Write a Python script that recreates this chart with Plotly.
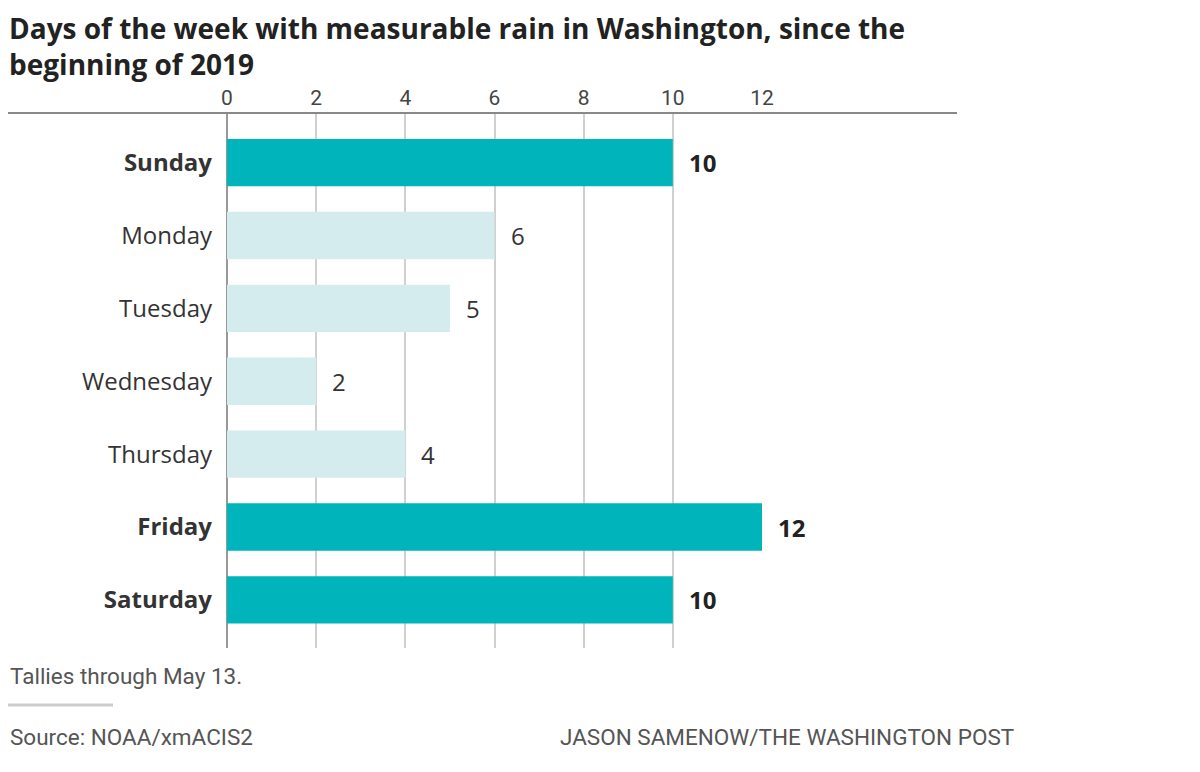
import plotly.graph_objects as go

days = ["Sunday", "Monday", "Tuesday", "Wednesday", "Thursday", "Friday", "Saturday"]
rain_days = [10, 6, 5, 2, 4, 12, 10]
highlight = [True, False, False, False, False, True, True]
tick_vals = [0, 2, 4, 6, 8, 10, 12]
tick_labels = ["0", "2", "4", "6", "8", "10", "12"]

title_text = ("Days of the week with measurable rain in Washington, since the"
              "<br>beginning of 2019")
note_text = "Tallies through May 13."
source_text = "Source: NOAA/xmACIS2"
credit_text = "JASON SAMENOW/THE WASHINGTON POST"

DARK = "#00b4bb"
LIGHT = "#d5ecee"
REG = "Open Sans, Noto Sans, sans-serif"
ROB = "Roboto, sans-serif"

# the page puts the figure 8px in from the top-left corner
OFF = 8
L, T = 227 - OFF, 113 - OFF
R = 1200 - (762 - OFF)
B = 772 - (648 - OFF)
PW = 762 - 227
PH = 648 - 113

colors = [DARK if h else LIGHT for h in highlight]

fig = go.Figure()
fig.add_trace(go.Bar(
    x=rain_days, y=days, orientation="h",
    marker=dict(color=colors, line=dict(width=0)),
    width=0.65, hoverinfo="skip",
))

for d, v, h in zip(days, rain_days, highlight):
    fig.add_annotation(
        x=v, y=d, xref="x", yref="y",
        text=f"<b>{v}</b>" if h else str(v),
        showarrow=False, xanchor="left", xshift=14,
        font=dict(family=REG, size=24, color="#222" if h else "#333"),
    )

ticktext = [f"<b>{d}</b>" if h else d for d, h in zip(days, highlight)]

fig.update_layout(
    width=1200, height=772,
    paper_bgcolor="white", plot_bgcolor="white",
    margin=dict(l=L, r=R, t=T, b=B),
    showlegend=False,
    xaxis=dict(
        range=[0, 12], side="top",
        tickvals=tick_vals, ticktext=tick_labels,
        showgrid=True, gridcolor="#d0d0d0", gridwidth=1.5,
        zeroline=True, zerolinecolor="#999", zerolinewidth=1.5,
        showline=False, ticks="", ticklabelstandoff=3,
        tickfont=dict(family=ROB, size=21, color="#444"),
        fixedrange=True,
    ),
    yaxis=dict(
        type="category", categoryorder="array", categoryarray=days,
        range=[6.66, -0.68],
        tickvals=days, ticktext=ticktext,
        showgrid=False, zeroline=False, showline=False, ticks="",
        ticklabelstandoff=14,
        tickfont=dict(family=REG, size=24, color="#333"),
        fixedrange=True,
    ),
)


def px_x(page_x):
    return page_x - 227


def px_y(page_y):
    return 113 - page_y


# title
fig.add_annotation(
    x=0, y=1, xref="paper", yref="paper", xanchor="left", yanchor="top",
    text=f"<b>{title_text}</b>", showarrow=False, align="left",
    xshift=-L, yshift=T, borderpad=0,
    font=dict(family=REG, size=28, color="#222"),
)

# top rule
fig.add_shape(type="line", xref="paper", yref="paper",
              x0=-L / PW, x1=(957 - 227) / PW, y0=1, y1=1,
              line=dict(color="#888", width=2))

# footer
FOOT = dict(family=ROB, size=22.5, color="#555")
fig.add_annotation(
    x=0, y=1, xref="paper", yref="paper", xanchor="left", yanchor="middle",
    text=note_text, showarrow=False, xshift=-L, yshift=px_y(676), font=FOOT,
)
fig.add_shape(type="line", xref="paper", yref="paper",
              x0=-L / PW, x1=(113 - 227) / PW,
              y0=1 + px_y(705) / PH, y1=1 + px_y(705) / PH,
              line=dict(color="#ccc", width=3))
fig.add_annotation(
    x=0, y=1, xref="paper", yref="paper", xanchor="left", yanchor="middle",
    text=source_text, showarrow=False, xshift=-L, yshift=px_y(737), font=FOOT,
)
fig.add_annotation(
    x=0, y=1, xref="paper", yref="paper", xanchor="left", yanchor="middle",
    text=credit_text, showarrow=False, xshift=px_x(558), yshift=px_y(737), font=FOOT,
)

fig.write_html("out.html")
